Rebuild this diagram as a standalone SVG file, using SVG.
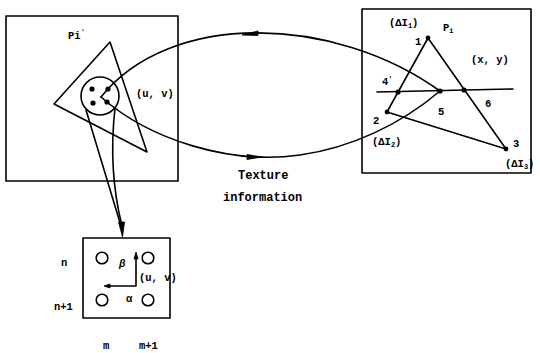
<svg xmlns="http://www.w3.org/2000/svg" width="540" height="353" viewBox="0 0 540 353">
<style>
.ln{fill:none;stroke:#000;stroke-width:1.6;stroke-linejoin:round;stroke-linecap:round}
.dot{fill:#000}
.ah{fill:#000;stroke:#000;stroke-width:0.8;stroke-linejoin:round}
text{font-family:"Liberation Mono","DejaVu Sans Mono",monospace;font-weight:bold;font-size:10.5px;fill:#000}
.big{font-size:12px}
.sub{font-size:7px}
</style>
<rect width="540" height="353" fill="#fff"/>

<g id="texture-space">
  <rect class="ln" x="6" y="16" width="172" height="165"/>
  <polygon class="ln" points="110,42 54,104 147,152"/>
  <circle class="ln" cx="100" cy="96" r="19"/>
  <circle class="dot" cx="92" cy="89" r="2.6"/>
  <circle class="dot" cx="108" cy="89" r="2.6"/>
  <circle class="dot" cx="93" cy="103" r="2.6"/>
  <circle class="dot" cx="107" cy="102" r="2.6"/>
  <text x="68" y="39">P<tspan>i</tspan><tspan dy="-5" class="sub">'</tspan></text>
  <text x="136" y="97">(u, v)</text>
</g>

<g id="screen-space">
  <rect class="ln" x="362" y="9" width="169" height="164"/>
  <polygon class="ln" points="428,38 387,112 506,149"/>
  <line class="ln" x1="377" y1="92" x2="513" y2="89"/>
  <circle class="dot" cx="428" cy="38" r="2.4"/>
  <circle class="dot" cx="387" cy="112" r="2.4"/>
  <circle class="dot" cx="506" cy="149" r="2.4"/>
  <circle class="dot" cx="398" cy="92" r="2.6"/>
  <circle class="dot" cx="440" cy="91" r="2.6"/>
  <circle class="dot" cx="464" cy="90" r="2.6"/>
  <text x="389" y="26">(ΔI<tspan class="sub" dy="2">1</tspan><tspan dy="-2">)</tspan></text>
  <text x="443" y="31">P<tspan class="sub" dy="2">i</tspan></text>
  <text x="415" y="45">1</text>
  <text x="471" y="63">(x, y)</text>
  <text x="382" y="85">4<tspan class="sub" dy="-4">'</tspan></text>
  <text x="438" y="115">5</text>
  <text x="485" y="107">6</text>
  <text x="373" y="124">2</text>
  <text x="372" y="145">(ΔI<tspan class="sub" dy="2">2</tspan><tspan dy="-2">)</tspan></text>
  <text x="513" y="147">3</text>
  <text x="505" y="167">(ΔI<tspan class="sub" dy="2">3</tspan><tspan dy="-2">)</tspan></text>
</g>

<g id="sample-grid">
  <rect class="ln" x="83" y="238" width="87" height="80"/>
  <circle class="ln" cx="102" cy="258" r="5.8"/>
  <circle class="ln" cx="148" cy="258" r="5.8"/>
  <circle class="ln" cx="102" cy="300" r="5.8"/>
  <circle class="ln" cx="148" cy="300" r="5.8"/>
  <polyline class="ln" points="136,258 136,286 108,286"/>
  <polygon class="ah" points="136,252 134,259 138,259"/>
  <polygon class="ah" points="104,286 110,284 110,288"/>
  <text x="61" y="266">n</text>
  <text x="54" y="310">n+1</text>
  <text x="119" y="267" font-family="DejaVu Sans" font-style="italic">β</text>
  <text x="139" y="281">(u, v)</text>
  <text x="126" y="302">α</text>
  <text x="103" y="349" fill="#000">m</text>
  <text x="139" y="349" fill="#000">m+1</text>
</g>

<g id="caption">
  <text class="big" x="238" y="179">Texture</text>
  <text class="big" x="223" y="201">information</text>
</g>

<g id="connectors">
  <path class="ln" d="M101,97 C170,10 335,15 440,91"/>
  <polygon class="ah" points="242,35 258,31 258,35.5"/>
  <path class="ln" d="M101,97 C150,140 230,165 300,155 C350,148 400,125 440,91"/>
  <polygon class="ah" points="262,157 247,154.5 247,159.5"/>
  <path class="ln" d="M86,110 L121,226"/>
  <path class="ln" d="M115,108 Q108,170 122,226"/>
  <polygon class="ah" points="122.5,237 118.5,222 124.5,222"/>
</g>
</svg>
